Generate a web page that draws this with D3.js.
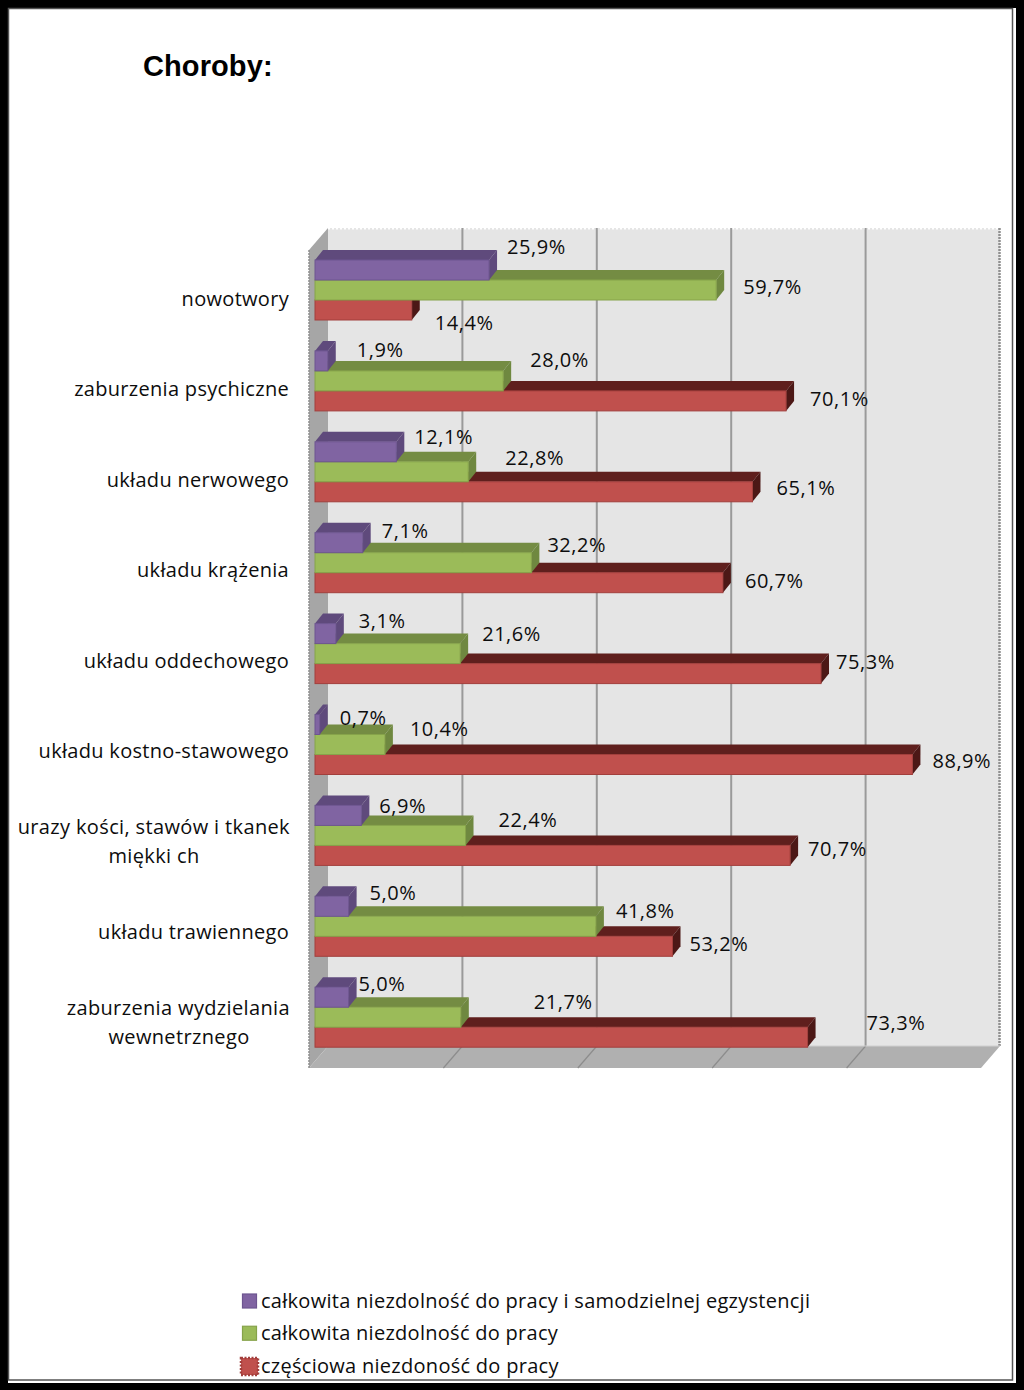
<!DOCTYPE html>
<html><head><meta charset="utf-8">
<script src="https://cdn.jsdelivr.net/npm/d3@7"></script>
<style>html,body{margin:0;padding:0;background:#000}svg{display:block}text{font-family:"Open Sans",sans-serif;fill:#0d0d0d}</style>
</head><body><script>
const title = "Choroby:";
const categories = [["nowotwory"],["zaburzenia psychiczne"],["układu nerwowego"],["układu krążenia"],["układu oddechowego"],["układu kostno-stawowego"],["urazy kości, stawów i tkanek","miękki ch"],["układu trawiennego"],["zaburzenia wydzielania","wewnetrznego"]];
const seriesNames = ["całkowita niezdolność do pracy i samodzielnej egzystencji","całkowita niezdolność do pracy","częściowa niezdoność do pracy"];
const purpleValues = [25.9,1.9,12.1,7.1,3.1,0.7,6.9,5.0,5.0];
const greenValues = [59.7,28.0,22.8,32.2,21.6,10.4,22.4,41.8,21.7];
const redValues = [14.4,70.1,65.1,60.7,75.3,88.9,70.7,53.2,73.3];
const gridTicks = [0,20,40,60,80,100];
const labelDx = [[18,29,18,19,23,20,18,21,10],[27,27,37,16,22,25,33,20,73],[23,24,24,22,15,20,18,17,59]];
const labelDy = [[-23,-11,-15,-12,-13,-7,-9,-13,-13],[-3,-21,-14,-18,-20,-16,-15,-15,-15],[13,-2,-4,-2,-12,-4,-6,-2,-14]];

const W=1024,H=1390;
const seriesValues=[purpleValues,greenValues,redValues];
const palette=[{front:"#8064a2",top:"#5f4a7c",side:"#5f4a7c",edge:"#6d5590"},{front:"#9bbb59",top:"#748c43",side:"#6f8840",edge:"#86a34a"},{front:"#c0504d",top:"#5f1f1d",side:"#4c1816",edge:"#a23f3c"}];
const svg=d3.select("body").append("svg").attr("width",W).attr("height",H);
svg.append("rect").attr("width",W).attr("height",H).attr("fill","#000");
svg.append("rect").attr("x",8).attr("y",8).attr("width",1008).attr("height",1375).attr("fill","#fff");
svg.append("rect").attr("x",8.5).attr("y",8.5).attr("width",1004).attr("height",1371.5).attr("fill","#fff").attr("stroke","#555").attr("stroke-width",1.5);

const x=d3.scaleLinear().domain([0,100]).range([315,987]);
const y=d3.scaleBand().domain(d3.range(categories.length)).range([260,1078.1]).paddingInner(0).paddingOuter(0);
const catY=d3.scalePoint().domain(d3.range(categories.length)).range([299,1022]);
const barH=20, dX=8, dY=10, wallDx=13, floorDx=-6;
const wallTop=228, wallBottom=1046, floorBottom=1068, sideTop=250;
const xBack=v=>x(v)+wallDx, xFront=v=>x(v)+floorDx;

const g=svg.append("g");
g.append("rect").attr("x",xBack(0)).attr("y",wallTop).attr("width",xBack(100)-xBack(0)).attr("height",wallBottom-wallTop).attr("fill","#e5e5e5");
g.append("line").attr("x1",xBack(0)).attr("x2",xBack(100)).attr("y1",wallTop+.5).attr("y2",wallTop+.5).attr("stroke","#fff").attr("stroke-width",2).attr("stroke-dasharray","2 2");
g.append("path").attr("d",`M${xBack(0)},${wallTop}L${xFront(0)},${sideTop}L${xFront(0)},${floorBottom}L${xBack(0)},${wallBottom}Z`).attr("fill","#a6a6a6");
g.append("path").attr("d",`M${xBack(0)},${wallBottom}L${xBack(100)},${wallBottom}L${xFront(100)},${floorBottom}L${xFront(0)},${floorBottom}Z`).attr("fill","#b0b0b0");
g.selectAll("line.grid").data(gridTicks.slice(1,-1)).join("line").attr("class","grid")
 .attr("x1",d=>xBack(d)).attr("x2",d=>xBack(d)).attr("y1",wallTop).attr("y2",wallBottom).attr("stroke","#9a9a9a").attr("stroke-width",2);
g.selectAll("line.floor").data(gridTicks.slice(1,-1)).join("line").attr("class","floor")
 .attr("x1",d=>xBack(d)).attr("x2",d=>xFront(d)).attr("y1",wallBottom).attr("y2",floorBottom).attr("stroke","#8c8c8c").attr("stroke-width",1.2);
g.append("line").attr("x1",xBack(100)-.5).attr("x2",xBack(100)-.5).attr("y1",wallTop).attr("y2",wallBottom).attr("stroke","#8f8f8f").attr("stroke-width",2.5).attr("stroke-dasharray","2 1");
g.append("line").attr("x1",xFront(0)).attr("x2",xFront(0)).attr("y1",sideTop).attr("y2",floorBottom).attr("stroke","#8f8f8f").attr("stroke-width",1.5).attr("stroke-dasharray","2 1");
g.append("line").attr("x1",xBack(0)).attr("x2",xBack(100)).attr("y1",wallBottom).attr("y2",wallBottom).attr("stroke","#cfcfcf").attr("stroke-width",1);

const bars=svg.append("g");
[2,1,0].forEach(s=>{
  const c=palette[s], sg=bars.append("g");
  seriesValues[s].forEach((v,i)=>{
    const x0=x(0), x1=x(v), yy=y(i)+s*barH;
    sg.append("path").attr("d",`M${x0},${yy}L${x0+dX},${yy-dY}L${x1+dX},${yy-dY}L${x1},${yy}Z`).attr("fill",c.top);
    sg.append("path").attr("d",`M${x1},${yy}L${x1+dX},${yy-dY}L${x1+dX},${yy+barH-dY}L${x1},${yy+barH}Z`).attr("fill",c.side);
    sg.append("rect").attr("x",x0).attr("y",yy).attr("width",x1-x0).attr("height",barH).attr("fill",c.front).attr("stroke",c.edge).attr("stroke-width",1);
  });
});

const labels=svg.append("g");
seriesValues.forEach((vals,s)=>vals.forEach((v,i)=>{
  labels.append("text").attr("x",x(v)+labelDx[s][i]).attr("y",y(i)+s*barH+barH/2+labelDy[s][i]).attr("dy","0.35em")
    .attr("font-size",20).attr("letter-spacing",0.55).text(d3.format(".1f")(v).replace(".",",")+"%");
}));

const catG=svg.append("g");
categories.forEach((lines,i)=>{
  const cy=catY(i);
  if(lines.length===1){
    catG.append("text").attr("x",289).attr("y",cy).attr("dy","0.35em").attr("text-anchor","end").attr("font-size",20).attr("letter-spacing",0.3).text(lines[0]);
  } else {
    const cx=lines[1]==="wewnetrznego"?179:154;
    lines.forEach((t,k)=>catG.append("text").attr("x",k===0?290:cx).attr("y",cy-14+k*29).attr("dy","0.35em")
      .attr("text-anchor",k===0?"end":"middle").attr("font-size",20).attr("letter-spacing",0.36).text(t));
  }
});

svg.append("text").attr("x",143).attr("y",76).attr("font-size",29).attr("font-weight","bold").attr("letter-spacing",0.1).style("font-family","'Liberation Sans',Arial,sans-serif").style("fill","#000").text(title);

const lg=svg.append("g");
const legendY=d3.scalePoint().domain([0,1,2]).range([1301,1365.5]);
seriesNames.forEach((n,s)=>{
  const cy=legendY(s);
  const sz=s===2?17:14;
  lg.append("rect").attr("x",249.5-sz/2).attr("y",cy-sz/2+(s===2?1:0)).attr("width",sz).attr("height",sz).attr("fill",palette[s].front)
    .attr("stroke",palette[s].edge).attr("stroke-width",s===2?2.5:1.2).attr("stroke-dasharray",s===2?"2 1.5":null);
  lg.append("text").attr("x",261).attr("y",cy).attr("dy","0.35em").attr("font-size",20).attr("letter-spacing",0.28).text(n);
});
</script></body></html>
